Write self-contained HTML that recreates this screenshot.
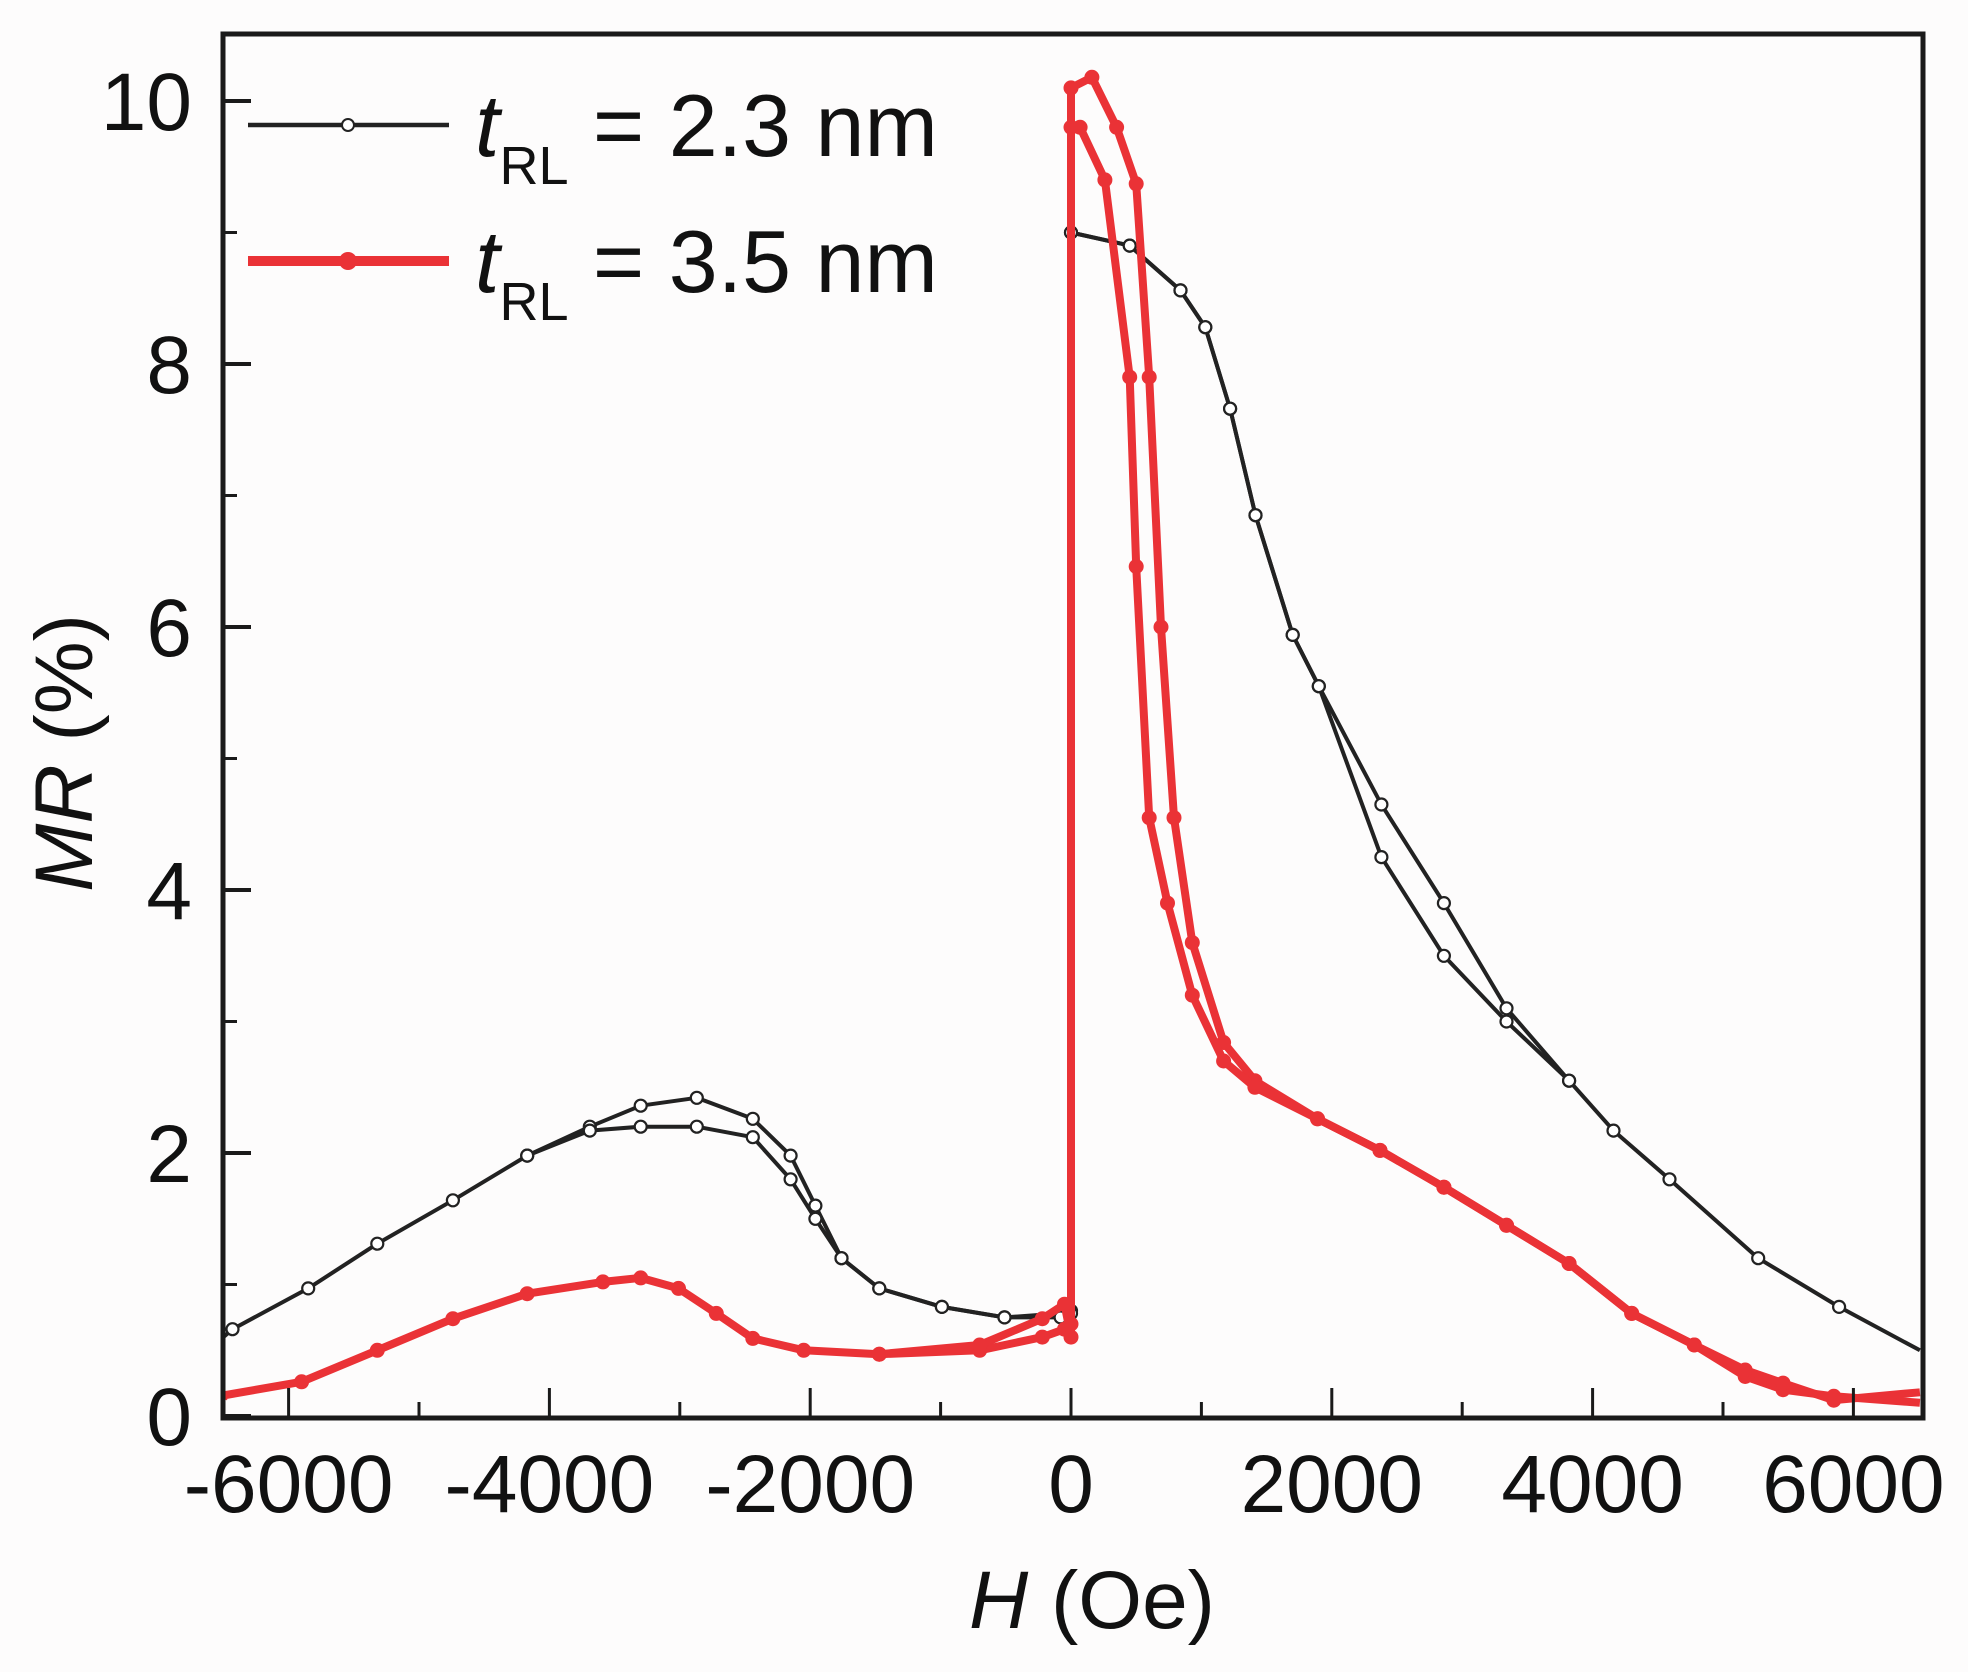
<!DOCTYPE html>
<html><head><meta charset="utf-8"><style>
html,body{margin:0;padding:0;background:#fdfcfc;}
svg{display:block;font-family:"Liberation Sans",Arial,sans-serif;}
</style></head><body>
<svg id="chart" width="1968" height="1672" viewBox="0 0 1968 1672" xmlns="http://www.w3.org/2000/svg">
<rect x="0" y="0" width="1968" height="1672" fill="#fdfcfc"/>
<g id="plot"></g>
<rect x="223" y="34" width="1700" height="1384" fill="none" stroke="#1a1a1a" stroke-width="5"/>
<g id="ticks"></g>
<g>
 <g>
  <line x1="248" y1="125" x2="449" y2="125" stroke="#222" stroke-width="4.5"/>
  <circle cx="348" cy="125" r="6" fill="#fff" stroke="#222" stroke-width="2"/>
  <text x="475" y="156" font-size="88" fill="#111"><tspan font-style="italic">t</tspan><tspan font-size="54" dy="28">RL</tspan><tspan dy="-28"> = 2.3 nm</tspan></text>
 </g>
 <g>
  <line x1="248" y1="261" x2="449" y2="261" stroke="#ea3236" stroke-width="10"/>
  <circle cx="348" cy="261" r="9" fill="#ea3236"/>
  <text x="475" y="292" font-size="88" fill="#111"><tspan font-style="italic">t</tspan><tspan font-size="54" dy="28">RL</tspan><tspan dy="-28"> = 3.5 nm</tspan></text>
 </g>
</g>
<text x="1092" y="1628" font-size="82" text-anchor="middle" fill="#111"><tspan font-style="italic">H</tspan> (Oe)</text>
<text transform="translate(92,753) rotate(-90)" font-size="82" text-anchor="middle" fill="#111"><tspan font-style="italic">MR</tspan> (%)</text>
</svg>
<script>
const xTicks=[-6000,-4000,-2000,0,2000,4000,6000];
const xMinor=[-5000,-3000,-1000,1000,3000,5000];
const yTicks=[0,2,4,6,8,10];
const yMinor=[1,3,5,7,9];
// t_RL = 2.3 nm (black), two branches
const blkAH=[-6500,-6430,-5850,-5320,-4740,-4170,-3690,-3300,-2870,-2440,-2150,-1960,-1760,-1470,-990,-510,-80,0,0,450,840,1030,1220,1415,1700,1900,2380,2860,3340,3820,4160,4590,5270,5890,6510];
const blkAV=[0.60,0.66,0.97,1.31,1.64,1.98,2.20,2.36,2.42,2.26,1.98,1.60,1.20,0.97,0.83,0.75,0.78,0.80,9.00,8.90,8.56,8.28,7.66,6.85,5.94,5.55,4.65,3.90,3.10,2.55,2.17,1.80,1.20,0.83,0.50];
const blkBH=[-4170,-3690,-3300,-2870,-2440,-2150,-1960,-1760,-1470,-990,-510,-80,0,0,450,840,1030,1220,1415,1700,1900,2380,2860,3340,3820];
const blkBV=[1.98,2.17,2.20,2.20,2.12,1.80,1.50,1.20,0.97,0.83,0.75,0.75,0.78,9.00,8.90,8.56,8.28,7.66,6.85,5.94,5.55,4.25,3.50,3.00,2.55];
// t_RL = 3.5 nm (red), two branches
const redAH=[-6500,-6480,-5900,-5320,-4740,-4170,-3590,-3300,-3010,-2720,-2440,-2050,-1470,-700,-220,-50,0,0,160,350,500,600,690,790,930,1170,1410,1890,2370,2860,3340,3820,4300,4780,5170,5460,5850,6510];
const redAV=[0.14,0.16,0.26,0.50,0.74,0.93,1.02,1.05,0.97,0.78,0.59,0.50,0.47,0.50,0.60,0.66,0.70,10.10,10.18,9.80,9.37,7.90,6.00,4.55,3.60,2.84,2.55,2.26,2.02,1.74,1.45,1.16,0.78,0.54,0.30,0.20,0.15,0.10];
const redBH=[-1470,-700,-220,-50,0,0,70,260,450,500,600,740,930,1170,1410,1890,2370,2860,3340,3820,4300,4780,5170,5460,5850,6510];
const redBV=[0.47,0.54,0.74,0.85,0.60,9.80,9.80,9.40,7.90,6.46,4.55,3.90,3.20,2.70,2.50,2.26,2.02,1.74,1.45,1.16,0.78,0.54,0.35,0.25,0.12,0.18];

const NS='http://www.w3.org/2000/svg';
const X0=223,X1=1923,Y0=34,Y1=1418;
function xs(h){return 1071+h*0.1304;}
function ys(v){return 1416-v*131.5;}
function mk(tag,attrs,parent){const e=document.createElementNS(NS,tag);for(const k in attrs)e.setAttribute(k,attrs[k]);parent.appendChild(e);return e;}
const plot=document.getElementById('plot');
const tk=document.getElementById('ticks');

function clip(v){return Math.max(Y0+3,Math.min(Y1-3,v));}
function series(H,V,color,w,open,name){
  const g=mk('g',{},plot);
  
  
  let d='';
  for(let i=0;i<H.length;i++){const x=Math.max(X0,Math.min(X1,xs(H[i])));d+=(i?'L':'M')+x.toFixed(1)+' '+clip(ys(V[i])).toFixed(1);}
  const p=mk('path',{d:d,fill:'none',stroke:color,'stroke-width':w,'stroke-linejoin':'round'},g);
  
  
  for(let i=0;i<H.length;i++){
    const x=xs(H[i]);if(x<X0+4||x>X1-4)continue;
    const c=mk('circle',{cx:x.toFixed(1),cy:clip(ys(V[i])).toFixed(1),r:open?6:7.5,fill:open?'#fff':color,stroke:color,'stroke-width':open?2.2:0},g);
    
    
  }
}
series(blkAH,blkAV,'#222',4,true,'series-2.3nm-branch-a');
series(blkBH,blkBV,'#222',4,true,'series-2.3nm-branch-b');
series(redAH,redAV,'#ea3236',8,false,'series-3.5nm-branch-a');
series(redBH,redBV,'#ea3236',8,false,'series-3.5nm-branch-b');

xTicks.forEach(t=>{
  const x=xs(t);
  const l=mk('line',{x1:x,y1:Y1,x2:x,y2:Y1-30,stroke:'#1a1a1a','stroke-width':3},tk);
  
  
  const tx=mk('text',{x:x,y:1512,'font-size':82,'text-anchor':'middle',fill:'#111'},tk);
  tx.textContent=String(t);
  
  
});
xMinor.forEach(t=>{
  const x=xs(t);
  const l=mk('line',{x1:x,y1:Y1,x2:x,y2:Y1-16,stroke:'#1a1a1a','stroke-width':3},tk);
  
  
});
yTicks.forEach(t=>{
  const y=ys(t);
  const l=mk('line',{x1:X0,y1:y,x2:X0+28,y2:y,stroke:'#1a1a1a','stroke-width':4},tk);
  
  
  const tx=mk('text',{x:192,y:y+29,'font-size':82,'text-anchor':'end',fill:'#111'},tk);
  tx.textContent=String(t);
  
  
});
yMinor.forEach(t=>{
  const y=ys(t);
  const l=mk('line',{x1:X0,y1:y,x2:X0+14,y2:y,stroke:'#1a1a1a','stroke-width':3},tk);
  
  
});
</script>
</body></html>
